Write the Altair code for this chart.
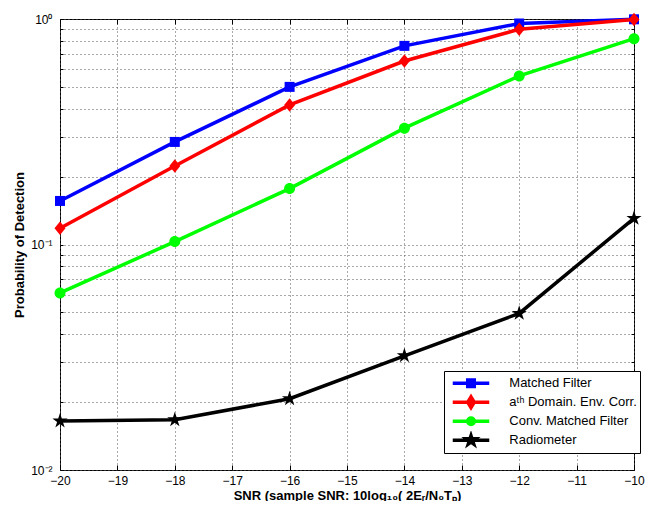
import numpy as np
import pandas as pd
import altair as alt

# ---------------- data ----------------
snr = [-20, -18, -16, -14, -12, -10]
series_names = ["Matched Filter", "aᵗʰ Domain. Env. Corr.", "Conv. Matched Filter", "Radiometer"]
pd_matched = [0.156, 0.285, 0.500, 0.760, 0.955, 0.997]
pd_ath = [0.118, 0.223, 0.416, 0.651, 0.900, 0.994]
pd_conv = [0.061, 0.103, 0.177, 0.328, 0.559, 0.818]
pd_radio = [0.0165, 0.0167, 0.0207, 0.0321, 0.0495, 0.1306]
x_ticks = [-20, -19, -18, -17, -16, -15, -14, -13, -12, -11, -10]
y_ticks = [0.01, 0.02, 0.03, 0.04, 0.05, 0.06, 0.07, 0.08, 0.09,
           0.1, 0.2, 0.3, 0.4, 0.5, 0.6, 0.7, 0.8, 0.9, 1]

# ---------------- style ----------------
colors = ["#0000ff", "#ff0000", "#00ff00", "#000000"]


def square(h):
    return f"M{-h},{-h}H{h}V{h}H{-h}Z"


def diamond(w, h):
    return f"M0,{-h}L{w},0L0,{h}L{-w},0Z"


def circle(r):
    return f"M{-r},0A{r},{r} 0 1,0 {r},0A{r},{r} 0 1,0 {-r},0Z"


def star(R, ratio=0.382):
    pts = []
    for i in range(10):
        r = R if i % 2 == 0 else R * ratio
        a = -np.pi / 2 + i * np.pi / 5
        pts.append(f"{r * np.cos(a):.3f},{r * np.sin(a):.3f}")
    return "M" + "L".join(pts) + "Z"


plot_markers = [square(1.0), diamond(1.1, 1.35), circle(1.1), star(1.6)]
seg = "M-2.52,0H2.52"
legend_markers = [seg + square(0.45), seg + diamond(0.45, 0.75),
                  seg + circle(0.45), seg + star(0.62)]

FONT = "Liberation Sans"

rows = []
for name, vals, col, mk in zip(series_names, [pd_matched, pd_ath, pd_conv, pd_radio],
                               colors, plot_markers):
    for xv, yv in zip(snr, vals):
        rows.append({"snr": xv, "pd": yv, "series": name, "hex": col, "marker": mk})
df = pd.DataFrame(rows)

x_scale = alt.Scale(domain=[-20, -10], nice=False, zero=False)
y_scale = alt.Scale(type="log", domain=[0.01, 1], nice=False)

x_main = alt.X(
    "snr:Q", scale=x_scale,
    axis=alt.Axis(
        orient="bottom",
        values=x_ticks, grid=True, gridDash=[1, 3], gridColor="#555555", gridWidth=1,
        ticks=True, tickSize={"expr": "-5"}, tickColor="black", tickWidth=1,
        domain=False, labelFont=FONT, labelFontSize=12, labelPadding=10,
        labelFlush=False, labelOverlap=False, labelColor="black",
        title="SNR (sample SNR: 10log₁₀( 2Eᵣ/N₀Tₚ)", titleFont=FONT, titleFontSize=13,
        titleFontWeight="bold", titlePadding=3, titleColor="black",
    ),
)
y_main = alt.Y(
    "pd:Q", scale=y_scale,
    axis=alt.Axis(
        orient="left",
        values=y_ticks, grid=True, gridDash=[1, 3], gridColor="#555555", gridWidth=1,
        ticks=True, tickSize={"expr": "-3"}, tickColor="black", tickWidth=1,
        domain=False, labelFont=FONT, labelFontSize=12, labelPadding=11,
        labelFlush=False, labelOverlap=False, labelColor="black",
        labelExpr="datum.value == 1 ? '10⁰' : datum.value == 0.1 ? '10⁻¹' : datum.value == 0.01 ? '10⁻²' : ''",
        title="Probability of Detection", titleFont=FONT, titleFontSize=13,
        titleFontWeight="bold", titlePadding=4, titleColor="black",
    ),
)
x_top = alt.X(
    "snr:Q", scale=x_scale,
    axis=alt.Axis(orient="top", values=x_ticks, grid=False, labels=False, domain=False,
                  ticks=True, tickSize={"expr": "-5"}, tickColor="black", tickWidth=1,
                  title=None),
)
y_right = alt.Y(
    "pd:Q", scale=y_scale,
    axis=alt.Axis(orient="right", values=y_ticks, grid=False, labels=False, domain=False,
                  ticks=True, tickSize={"expr": "-3"}, tickColor="black", tickWidth=1,
                  title=None),
)
x_plain = alt.X("snr:Q", scale=x_scale, axis=None)
y_plain = alt.Y("pd:Q", scale=y_scale, axis=None)

LEG_EXPR = "datum.label + '\u00a0\u00a0'"

# legend-only layer (no data drawn); carries the main axes
legend_layer = alt.Chart(df).transform_filter("false").mark_point(
    filled=True, size=210, strokeWidth=3.5, opacity=1
).encode(
    x=x_main, y=y_main,
    color=alt.Color("series:N", scale=alt.Scale(domain=series_names, range=colors),
                    legend=alt.Legend(title=None, labelExpr=LEG_EXPR)),
    stroke=alt.Stroke("series:N", scale=alt.Scale(domain=series_names, range=colors),
                      legend=alt.Legend(title=None, labelExpr=LEG_EXPR)),
    shape=alt.Shape("series:N", scale=alt.Scale(domain=series_names, range=legend_markers),
                    legend=alt.Legend(title=None, labelExpr=LEG_EXPR)),
)

# box ticks on the top and right sides
box_layer = alt.Chart(df).transform_filter("false").mark_point().encode(x=x_top, y=y_right)

layers = [legend_layer, box_layer]
base = alt.Chart(df).encode(x=x_plain, y=y_plain)
for name in series_names:
    sub = base.transform_filter(alt.datum.series == name)
    layers.append(sub.mark_line(strokeWidth=3.5).encode(
        color=alt.Color("hex:N", scale=None)))
    layers.append(sub.mark_point(filled=True, size=100, opacity=1).encode(
        color=alt.Color("hex:N", scale=None),
        shape=alt.Shape("marker:N", scale=None)))

chart = alt.layer(*layers).properties(
    width=574, height=451,
    padding={"left": 52, "top": 11, "right": 16, "bottom": 31},
    autosize=alt.AutoSizeParams(type="none"),
    background="white",
).configure_view(
    stroke="black", strokeWidth=1
).configure_legend(
    orient="none", legendX=384, legendY=352,
    symbolSize=210, symbolStrokeWidth=3.5, symbolOffset=15,
    labelFont=FONT, labelFontSize=13, labelOffset=29.3, labelColor="black",
    padding=3, rowPadding=0, clipHeight=18.5,
    strokeColor="black", fillColor="white", cornerRadius=0,
)

chart.save("out.html", embed_options={"renderer": "svg", "actions": False})
